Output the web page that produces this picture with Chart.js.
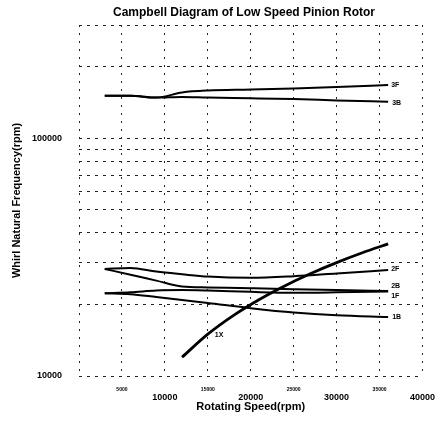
<!DOCTYPE html>
<html>
<head>
<meta charset="utf-8">
<script src="https://cdn.jsdelivr.net/npm/chart.js@4"></script>
<style>
  body { margin: 0; background: #fff; }
  #wrap { width: 446px; height: 423px; }
</style>
</head>
<body>
<div id="wrap"><canvas id="campbell"></canvas></div>
<script>
// rotating speed (rpm) where the whirl frequencies were read
const speed = [3000, 6000, 9000, 12000, 15000, 20000, 25000, 30000, 36000];

// whirl natural frequency (rpm) of each mode
const mode3F = [151000, 151000, 148500, 156000, 159000, 160500, 162300, 164500, 167600];
const mode3B = [151000, 151000, 148500, 149500, 148500, 147500, 146300, 144500, 142600];
const mode2F = [28200, 28500, 27500, 26800, 26200, 25900, 26300, 27000, 27900];
const mode2B = [28200, 26700, 25200, 23800, 23600, 23400, 23200, 23000, 22800];
const mode1F = [22300, 22500, 22900, 23000, 22900, 22600, 22400, 22500, 22700];
const mode1B = [22300, 22100, 21500, 20900, 20300, 19300, 18500, 18000, 17700];

// 1X excitation line
const speed1X = [12000, 15000, 18000, 21000, 24000, 27000, 30000, 33000, 36000];
const freq1X  = [12000, 15000, 18000, 21000, 24000, 27000, 30000, 33000, 36000];

// axis ticks
const xTicks = [0, 5000, 10000, 15000, 20000, 25000, 30000, 35000, 40000];
const yTicks = [10000, 20000, 30000, 40000, 50000, 60000, 70000, 80000, 90000,
                100000, 200000, 300000];
const yLabelled = [10000, 100000];

const FONT = '"Liberation Sans", Arial, sans-serif';
Chart.defaults.font.family = FONT;
Chart.defaults.color = '#000';

function pts(xs, ys) {
    return xs.map((x, i) => ({ x: x, y: ys[i] }));
}

function mode(label, ys, dx, dy) {
    return {
        label: label,
        data: pts(speed, ys),
        borderColor: '#000',
        borderWidth: 2,
        pointRadius: 0,
        cubicInterpolationMode: 'monotone',
        tagDx: dx,
        tagDy: dy
    };
}

// 🏷️ small tags next to each curve
const tagPlugin = {
    id: 'tags',
    afterDatasetsDraw(chart) {
        const ctx = chart.ctx;
        ctx.save();
        ctx.fillStyle = '#000';
        ctx.font = 'bold 7px ' + FONT;
        ctx.textAlign = 'left';
        ctx.textBaseline = 'middle';
        chart.data.datasets.forEach((ds, i) => {
            const meta = chart.getDatasetMeta(i);
            const pt = meta.data[ds.tagAt !== undefined ? ds.tagAt : meta.data.length - 1];
            ctx.fillText(ds.label, pt.x + ds.tagDx, pt.y + ds.tagDy);
        });
        ctx.restore();
    }
};

// 📝 title, drawn a little right of the canvas centre like the scan
const titlePlugin = {
    id: 'scanTitle',
    afterDraw(chart) {
        const ctx = chart.ctx;
        ctx.save();
        ctx.fillStyle = '#000';
        ctx.font = 'bold 12px ' + FONT;
        ctx.textAlign = 'center';
        ctx.textBaseline = 'middle';
        ctx.fillText('Campbell Diagram of Low Speed Pinion Rotor', 244, 13);
        ctx.restore();
    }
};

const datasets = [
    mode('3F', mode3F, 3, 0),
    mode('3B', mode3B, 4, 1),
    mode('2F', mode2F, 3, -1),
    mode('2B', mode2B, 3, -5),
    mode('1F', mode1F, 3, 5),
    mode('1B', mode1B, 4, 0),
    {
        label: '1X',
        data: pts(speed1X, freq1X),
        borderColor: '#000',
        borderWidth: 2.8,
        pointRadius: 0,
        cubicInterpolationMode: 'monotone',
        tagAt: 1,
        tagDx: 7,
        tagDy: 1
    }
];

new Chart(document.getElementById('campbell').getContext('2d'), {
    type: 'line',
    data: { datasets: datasets },
    options: {
        responsive: true,
        maintainAspectRatio: false,
        animation: false,
        layout: { padding: { left: 4, right: 18, top: 25, bottom: 6 } },
        plugins: {
            legend: { display: false },
            tooltip: { enabled: false }
        },
        scales: {
            x: {
                type: 'linear',
                min: 0,
                max: 40000,
                afterBuildTicks: s => { s.ticks = xTicks.map(v => ({ value: v })); },
                afterFit: s => { s.height = 41; },
                grid: { color: '#222', lineWidth: 1, drawTicks: false },
                border: { display: false, dash: [2, 6] },
                ticks: {
                    autoSkip: false,
                    maxRotation: 0,
                    padding: 11,
                    callback: v => v === 0 ? '' : (v % 10000 === 0 ? ['', String(v)] : String(v)),
                    font: c => (c.tick && c.tick.value % 10000 === 0)
                        ? { size: 9, weight: 'bold', lineHeight: 0.75 }
                        : { size: 5, weight: 'bold', lineHeight: 1.2 }
                },
                title: {
                    display: true,
                    text: 'Rotating Speed(rpm)',
                    font: { size: 11, weight: 'bold' },
                    padding: { top: 0, bottom: 3 }
                }
            },
            y: {
                type: 'logarithmic',
                min: 10000,
                max: 300000,
                afterBuildTicks: s => { s.ticks = yTicks.map(v => ({ value: v })); },
                afterFit: s => { s.width = 75; },
                grid: { color: '#222', lineWidth: 1, drawTicks: false },
                border: { display: false, dash: [3, 5] },
                ticks: {
                    autoSkip: false,
                    padding: 17,
                    font: { size: 9, weight: 'bold' },
                    callback: v => yLabelled.includes(v) ? String(v) : ''
                },
                title: {
                    display: true,
                    text: 'Whirl Natural Frequency(rpm)',
                    font: { size: 11, weight: 'bold' },
                    padding: { top: 6, bottom: 0 }
                }
            }
        }
    },
    plugins: [tagPlugin, titlePlugin]
});
</script>
</body>
</html>
